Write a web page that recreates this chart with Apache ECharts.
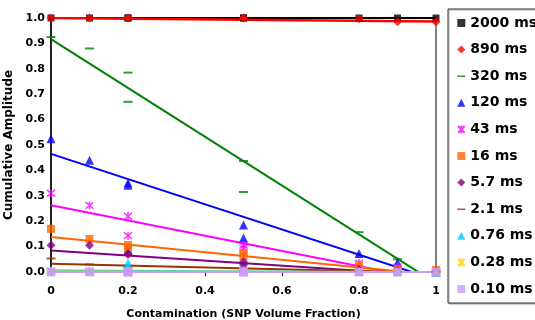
<!DOCTYPE html>
<html>
<head>
<meta charset="utf-8">
<script src="https://cdn.jsdelivr.net/npm/echarts@6/dist/echarts.min.js"></script>
<style>
    html, body { margin: 0; padding: 0; background: #fff; }
    #divChart { width: 535px; height: 320px; }
</style>
</head>
<body>
<div id="divChart"></div>
<script>
// contamination fractions (replicates at 0.2 and 0.5)
var xValues = [0, 0.1, 0.2, 0.2, 0.5, 0.5, 0.8, 0.9, 1.0];
var seriesNames = ['2000 ms', '890 ms', '320 ms', '120 ms', '43 ms', '16 ms',
    '5.7 ms', '2.1 ms', '0.76 ms', '0.28 ms', '0.10 ms'];
var y2000 = [1.0, 1.0, 1.0, 1.0, 1.0, 1.0, 1.0, 1.0, 1.0];
var y890 = [1.0, 1.0, 1.0, 1.0, 1.0, 1.0, 0.997, 0.985, 0.985];
var y320 = [0.925, 0.88, 0.785, 0.67, 0.437, 0.315, 0.157, 0.05, 0.0];
var y120 = [0.525, 0.44, 0.35, 0.342, 0.185, 0.134, 0.073, 0.037, 0.0];
var y43 = [0.31, 0.262, 0.22, 0.143, 0.105, 0.094, 0.035, 0.02, 0.0];
var y16 = [0.17, 0.13, 0.106, 0.094, 0.075, 0.063, 0.025, 0.012, 0.008];
var y5_7 = [0.105, 0.105, 0.073, 0.07, 0.04, 0.028, 0.01, 0.005, 0.003];
var y2_1 = [0.053, 0.03, 0.025, 0.02, 0.015, 0.01, 0.005, 0.002, 0.0];
var y0_76 = [0.008, 0.005, 0.035, 0.02, 0.008, 0.005, 0.003, 0.001, 0.0];
var y0_28 = [0.003, 0.002, 0.004, 0.002, 0.002, 0.001, 0.001, 0.0, 0.0];
var y0_10 = [0.0, 0.0, 0.0, 0.0, 0.0, 0.0, 0.0, 0.0, 0.0];
// linear trendlines: value at x=0 and at x=1
var trendStart = [1.0, 1.0, 0.917, 0.465, 0.263, 0.138, 0.085, 0.032, 0.006, 0.002, 0.0];
var trendEnd = [1.0, 0.986, -0.044, -0.031, -0.037, -0.012, -0.015, -0.004, -0.001, 0.0, 0.0];
var xTicks = [0, 0.2, 0.4, 0.6, 0.8, 1];

var yData = [y2000, y890, y320, y120, y43, y16, y5_7, y2_1, y0_76, y0_28, y0_10];
var colors = ['#000000', '#FF0000', '#008000', '#0000FF', '#FF00FF', '#FF6600',
    '#800080', '#993300', '#00CCFF', '#FFCC00', '#CC99FF'];

var dash = 'path://M0,0h10v2h-10z';
var dashIcon = 'path://M0,0h0.01v0.01h-0.01z M0,9.99h0.01v0.01h-0.01z M0,4h10v2h-10z';
var star = 'path://M0,0L10,10M10,0L0,10M5,-1L5,11';
var symbols = ['rect', 'diamond', dash, 'triangle', star, 'rect',
    'diamond', dash, 'triangle', star, 'rect'];
var sizes = [7, 9, [9, 2], 9, 8, 8, 9, [9, 2], 9, 8, 9];

var font = 'DejaVu Sans';
var dom = document.getElementById("divChart");
var myChart = echarts.init(dom);

var series = [];
var legendData = [];
for (var i = 0; i < seriesNames.length; i++) {
    var pts = [];
    for (var j = 0; j < xValues.length; j++) {
        pts.push([xValues[j], yData[i][j]]);
    }
    var isStar = symbols[i] === star;
    series.push({
        name: seriesNames[i],
        type: 'scatter',
        symbol: symbols[i],
        symbolSize: sizes[i],
        z: 3,
        itemStyle: {
            color: colors[i],
            borderColor: colors[i],
            borderWidth: isStar ? 1.5 : 0
        },
        data: pts
    });
    series.push({
        name: seriesNames[i],
        type: 'line',
        showSymbol: false,
        z: 2,
        clip: true,
        lineStyle: { color: colors[i], width: i === 1 ? 2.5 : 2 },
        data: [[0, trendStart[i]], [1, trendEnd[i]]]
    });
    legendData.push({
        name: seriesNames[i],
        icon: symbols[i] === dash ? dashIcon : symbols[i]
    });
}

var option = {
    animation: false,
    grid: {
        left: 51,
        right: 99,
        top: 18,
        bottom: 48,
        outerBoundsMode: 'none',
        containLabel: false,
        show: true,
        borderColor: '#000',
        borderWidth: 1
    },
    legend: {
        orient: 'vertical',
        left: 448,
        top: 9,
        padding: [7, 20, 7, 9],
        itemWidth: 8,
        itemHeight: 8,
        itemGap: 12.6,
        borderColor: '#333',
        borderWidth: 1,
        backgroundColor: '#fff',
        shadowColor: 'rgba(0,0,0,0.35)',
        shadowOffsetX: 1,
        shadowOffsetY: 1,
        shadowBlur: 1,
        textStyle: {
            fontFamily: font,
            fontWeight: 'bold',
            fontSize: 14,
            lineHeight: 14,
            color: '#000'
        },
        data: legendData
    },
    xAxis: {
        type: 'value',
        min: 0,
        max: 1,
        interval: 0.2,
        name: 'Contamination (SNP Volume Fraction)',
        nameLocation: 'middle',
        nameGap: 37,
        nameTextStyle: { fontFamily: font, fontWeight: 'bold', fontSize: 11, color: '#000' },
        splitLine: { show: false },
        axisLine: { lineStyle: { color: '#000', width: 1 } },
        axisTick: { show: true, length: 4, lineStyle: { color: '#000' } },
        axisLabel: {
            margin: 14,
            fontFamily: font,
            fontWeight: 'bold',
            fontSize: 11,
            color: '#000',
            formatter: function (v) {
                for (var k = 0; k < xTicks.length; k++) {
                    if (Math.abs(xTicks[k] - v) < 1e-9) return String(xTicks[k]);
                }
                return '';
            }
        }
    },
    yAxis: {
        type: 'value',
        min: 0,
        max: 1,
        interval: 0.1,
        name: 'Cumulative Amplitude',
        nameLocation: 'middle',
        nameGap: 31,
        nameTextStyle: { fontFamily: font, fontWeight: 'bold', fontSize: 12, color: '#000' },
        splitLine: { show: false },
        axisLine: { show: true, lineStyle: { color: '#000', width: 1.5 } },
        axisTick: { show: false },
        axisLabel: {
            margin: 6,
            fontFamily: font,
            fontWeight: 'bold',
            fontSize: 11,
            color: '#000',
            formatter: function (v) { return v.toFixed(1); }
        }
    },
    series: series
};

if (option && typeof option === "object") {
    myChart.setOption(option, true);
}
</script>
</body>
</html>
